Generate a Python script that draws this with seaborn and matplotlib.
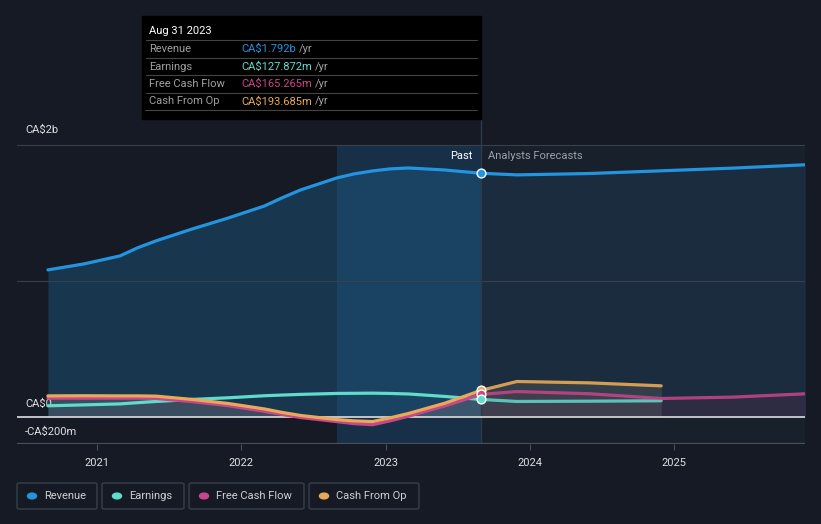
import numpy as np
import pandas as pd
import matplotlib.pyplot as plt
import seaborn as sns
from matplotlib.patches import Rectangle, FancyBboxPatch

sns.set_style("dark")
plt.rcParams['font.family'] = ['Roboto', 'DejaVu Sans']

# data (CA$ millions, x in decimal years)
past_x = [2020.66, 2020.91, 2021.16, 2021.28, 2021.41, 2021.66, 2021.91, 2022.16,
          2022.28, 2022.41, 2022.66, 2022.78, 2022.91, 2023.03, 2023.16, 2023.41, 2023.66]
revenue_past = [1081, 1125, 1184, 1243, 1295, 1382, 1463, 1551,
                1610, 1669, 1757, 1787, 1809, 1824, 1831, 1816, 1792]
earnings_past = [81, 88, 95, 104, 113, 128, 140, 155,
                 160, 165, 172, 173, 174, 172, 168, 150, 128]
fcf_past = [137, 137, 137, 137, 135, 112, 82, 40,
            18, -5, -35, -50, -58, -30, 5, 80, 165]
cfo_past = [154, 155, 154, 154, 152, 128, 98, 58,
            33, 10, -20, -30, -35, -8, 25, 100, 194]

rev_fc_x = [2023.66, 2023.91, 2024.41, 2024.91, 2025.41, 2025.92]
revenue_fc = [1792, 1780, 1790, 1810, 1830, 1855]
fc_x = [2023.66, 2023.91, 2024.41, 2024.91]
earnings_fc = [128, 113, 115, 118]
cfo_fc = [194, 260, 250, 228]
fcf_fc_x = [2023.66, 2023.91, 2024.41, 2024.91, 2025.41, 2025.92]
fcf_fc = [165, 186, 170, 135, 145, 170]

years = [2021, 2022, 2023, 2024, 2025]

colors = {"Revenue": "#2394df", "Earnings": "#5fdcca",
          "Free Cash Flow": "#c8468a", "Cash From Op": "#e8aa58"}
BG = "#151a24"

fig = plt.figure(figsize=(8.21, 5.24), dpi=100)
fig.patch.set_facecolor(BG)
W, H = 821, 524
x0, x1 = 17, 805
ytop, ybot = 120, 444
ax = fig.add_axes([x0 / W, (H - ybot) / H, (x1 - x0) / W, (ybot - ytop) / H])
ax.set_facecolor(BG)

xmin = 2021 + (x0 - 97) / 144.3
xmax = 2021 + (x1 - 97) / 144.3
ymin = -200
ymax = (417 - ytop) / 272 * 2000
ax.set_xlim(xmin, xmax)
ax.set_ylim(ymin, ymax)

# backgrounds (only between -200m and 2b)
ax.fill_between([2023.66, xmax], -200, 2000, color="#18202b", lw=0, zorder=0)
ax.fill_between([2022.66, 2023.66], -200, 2000, color="#1a4d75", alpha=0.45, lw=0, zorder=0.5)

# fills
ax.fill_between(past_x, revenue_past, 0, color="#1f5a85", alpha=0.45, lw=0, zorder=1)
ax.fill_between(rev_fc_x, revenue_fc, 0, color="#1f4a6a", alpha=0.3, lw=0, zorder=1)
ax.fill_between(past_x, np.maximum(cfo_past, 0), 0, color="#7a7a80", alpha=0.35, lw=0, zorder=1.2)
ax.fill_between(fc_x, cfo_fc, 0, color="#5a5a60", alpha=0.4, lw=0, zorder=1.2)
ax.fill_between(fcf_fc_x, fcf_fc, 0, color="#3a2c48", alpha=0.6, lw=0, zorder=1.1)

# grid lines
for v in [1000, 2000]:
    ax.axhline(v, color="#3a404a", lw=0.8, zorder=1.5)
ax.axhline(0, color="#d0d0d0", lw=1.3, zorder=3)
ax.axhline(-200, color="#4a505a", lw=1.6, zorder=3)

def draw(name, xs, ys, alpha=1.0):
    df = pd.DataFrame({"x": xs, "y": ys})
    sns.lineplot(data=df, x="x", y="y", ax=ax, color=colors[name], lw=2.3,
                 alpha=alpha, zorder=4)

draw("Revenue", past_x, revenue_past)
draw("Revenue", rev_fc_x, revenue_fc)
draw("Earnings", past_x, earnings_past)
draw("Earnings", fc_x, earnings_fc, 0.85)
draw("Free Cash Flow", past_x, fcf_past)
draw("Free Cash Flow", fcf_fc_x, fcf_fc, 0.85)
draw("Cash From Op", past_x, cfo_past)
draw("Cash From Op", fc_x, cfo_fc, 0.9)

for name, v in [("Revenue", revenue_past[-1]), ("Cash From Op", cfo_past[-1]),
                ("Free Cash Flow", fcf_past[-1]), ("Earnings", earnings_past[-1])]:
    ax.scatter([2023.66], [v], s=40, color=colors[name], edgecolor="white",
               linewidth=1, zorder=6)

ax.axvline(2023.66, color="#2c3a4a", lw=1, zorder=2)

ax.set_xticks(years)
ax.set_xticklabels([str(y) for y in years], color="#e0e0e0", fontsize=8)
ax.tick_params(axis="x", length=4, color="#4a505a", pad=6, bottom=True)
ax.set_yticks([])
ax.set_xlabel("")
ax.set_ylabel("")
for s in ax.spines.values():
    s.set_visible(False)
ax.grid(False)

# y labels
ax.text(0.01, 2000 + 70, "CA\\$2b", transform=ax.get_yaxis_transform(),
        color="#e0e0e0", fontsize=8, va="bottom")
ax.text(25 / W, (H - 404) / H, "CA\\$0", transform=fig.transFigure,
        color="#e0e0e0", fontsize=8, va="center")
ax.text(25 / W, (H - 432) / H, "-CA\\$200m", transform=fig.transFigure,
        color="#e0e0e0", fontsize=8, va="center")

fig.text(472 / W, (H - 156) / H, "Past", color="white", fontsize=8, ha="right", va="center")
fig.text(488 / W, (H - 156) / H, "Analysts Forecasts", color="#9aa0a8", fontsize=8,
         ha="left", va="center")

# tooltip
fig.patches.append(Rectangle((142 / W, (H - 119) / H), (481 - 142) / W, (119 - 16) / H,
                             transform=fig.transFigure, color="black", zorder=10))
fig.text(149 / W, (H - 31) / H, "Aug 31 2023", color="white", fontsize=8, va="center", zorder=11)
rows = [("Revenue", "CA\\$1.792b"), ("Earnings", "CA\\$127.872m"),
        ("Free Cash Flow", "CA\\$165.265m"), ("Cash From Op", "CA\\$193.685m")]
for i, (lab, val) in enumerate(rows):
    yy = 49 + i * 17.5
    fig.text(149 / W, (H - yy) / H, lab, color="#a0a0a0", fontsize=8, va="center", zorder=11)
    t = fig.text(241 / W, (H - yy) / H, val, color=colors[lab], fontsize=8, va="center", zorder=11)
    fig.canvas.draw()
    bb = t.get_window_extent()
    fig.text(bb.x1 / W + 3 / W, (H - yy) / H, "/yr", color="#a0a0a0", fontsize=8,
             va="center", zorder=11)
    fig.add_artist(plt.Line2D([142 / W + 4 / W, 477 / W],
                              [(H - yy + 9) / H, (H - yy + 9) / H],
                              color="#444444", lw=0.8, zorder=11))
fig.add_artist(plt.Line2D([145 / W, 477 / W], [(H - 110) / H, (H - 110) / H],
                          color="#444444", lw=0.8, zorder=11))

# legend
items = [("Revenue", 17, 97), ("Earnings", 102, 184),
         ("Free Cash Flow", 189, 304), ("Cash From Op", 309, 419)]
for name, a, b in items:
    fig.patches.append(FancyBboxPatch((a / W, (H - 509) / H), (b - a) / W, 26 / H,
                                      boxstyle="round,pad=0,rounding_size=0.003",
                                      transform=fig.transFigure, facecolor="none",
                                      edgecolor="#3a404a", lw=1))
    fig.patches.append(plt.Circle(((a + 15) / W, (H - 496) / H), 0.0055,
                                  transform=fig.transFigure, color=colors[name]))
    fig.text((a + 27) / W, (H - 496) / H, name, color="#d0d0d0", fontsize=8, va="center")

fig.savefig("out.png", dpi=100, facecolor=BG)
